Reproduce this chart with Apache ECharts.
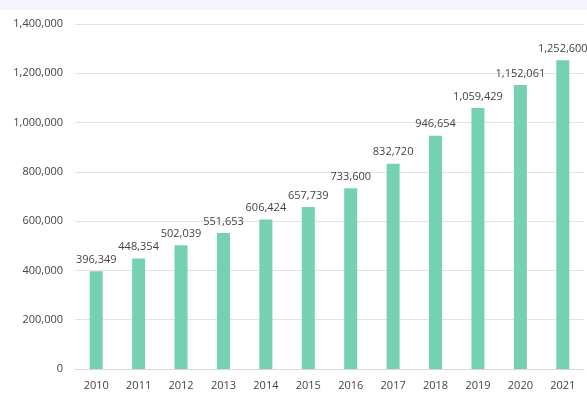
<!DOCTYPE html>
<html><head><meta charset="utf-8">
<script src="https://cdn.jsdelivr.net/npm/echarts@6/dist/echarts.min.js"></script>
<style>html,body{margin:0;padding:0;background:#fff}#c{width:587px;height:399px}</style>
</head><body><div id="c"></div>
<script>
var categories = ['2010','2011','2012','2013','2014','2015','2016','2017','2018','2019','2020','2021'];
var values = [396349,448354,502039,551653,606424,657739,733600,832720,946654,1059429,1152061,1252600];
var yTicks = [0,200000,400000,600000,800000,1000000,1200000,1400000];

var chart = echarts.init(document.getElementById('c'), null, {renderer:'canvas'});
var fmt = function(v){ return Number(v).toLocaleString('en-US'); };
chart.setOption({
  animation:false,
  backgroundColor:'#ffffff',
  textStyle:{fontFamily:'Open Sans'},
  graphic:[{type:'rect',left:0,top:0,shape:{width:587,height:10},style:{fill:'#f5f6fb'},silent:true}],
  grid:{left:75,right:3,top:24,bottom:30,containLabel:false},
  xAxis:{type:'category',data:categories,
    axisLine:{lineStyle:{color:'#d9d9d9'}},axisTick:{show:false},
    axisLabel:{color:'#444444',fontSize:11,margin:11}},
  yAxis:{type:'value',min:yTicks[0],max:yTicks[yTicks.length-1],interval:200000,
    axisLine:{show:false},axisTick:{show:false},
    splitLine:{lineStyle:{color:'#e3e3e3'}},
    axisLabel:{color:'#444444',fontSize:11,margin:12,formatter:fmt}},
  series:[{type:'bar',data:values,barWidth:13,
    itemStyle:{color:'#76d1b0'},
    label:{show:true,position:'top',color:'#444444',fontSize:11,distance:6,formatter:function(p){return fmt(p.value);}}}]
});
</script></body></html>
